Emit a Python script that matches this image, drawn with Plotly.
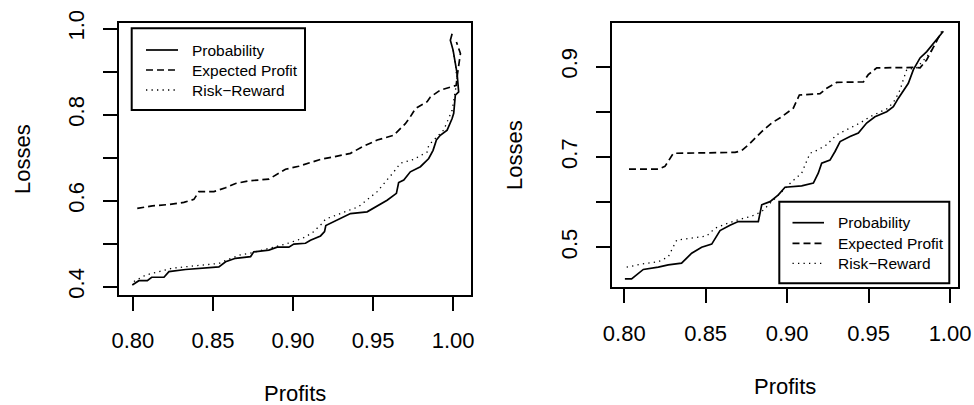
import plotly.graph_objects as go

# ---------------- data ----------------
# Left panel
L_prob_x = [0.7996, 0.8037, 0.809, 0.8117, 0.8194, 0.8225, 0.8329, 0.8454, 0.8537, 0.8579,
            0.8641, 0.8735, 0.8755, 0.8849, 0.8901, 0.8974, 0.9005, 0.9078, 0.9109, 0.9172,
            0.9197, 0.9205, 0.9255, 0.9297, 0.9359, 0.9463, 0.9536, 0.9588, 0.9646, 0.966,
            0.9692, 0.9733, 0.9796, 0.9848, 0.9875, 0.9896, 0.992, 0.9963, 0.9994, 1.0004,
            1.0014, 1.0035, 1.0025, 1.0014, 1.0, 0.9983, 0.9994]
L_prob_y = [0.404, 0.414, 0.414, 0.422, 0.422, 0.435, 0.440, 0.443, 0.446, 0.458,
            0.466, 0.470, 0.481, 0.485, 0.492, 0.492, 0.499, 0.501, 0.508, 0.518,
            0.528, 0.542, 0.551, 0.559, 0.570, 0.574, 0.590, 0.601, 0.617, 0.642,
            0.648, 0.667, 0.679, 0.698, 0.717, 0.741, 0.752, 0.764, 0.791, 0.803,
            0.845, 0.853, 0.896, 0.919, 0.950, 0.973, 0.988]

L_exp_x = [0.8027, 0.8121, 0.8225, 0.8318, 0.8381, 0.8412, 0.8506, 0.8579, 0.8641, 0.8724,
           0.8849, 0.8901, 0.8953, 0.9036, 0.912, 0.9172, 0.9255, 0.9359, 0.9432, 0.9526,
           0.9629, 0.9702, 0.9733, 0.9765, 0.9838, 0.9858, 0.992, 1.002, 1.0025, 1.0035,
           1.0046, 1.0021]
L_exp_y = [0.582, 0.588, 0.591, 0.596, 0.603, 0.621, 0.621, 0.630, 0.640, 0.646,
           0.650, 0.662, 0.673, 0.680, 0.689, 0.696, 0.702, 0.710, 0.725, 0.741,
           0.752, 0.779, 0.795, 0.814, 0.830, 0.841, 0.857, 0.868, 0.888, 0.910,
           0.942, 0.969]

L_rr_x = [0.8006, 0.8079, 0.8162, 0.8246, 0.837, 0.8537, 0.8599, 0.8672, 0.8745, 0.8849,
          0.8953, 0.9057, 0.912, 0.9182, 0.9203, 0.941, 0.9526, 0.963, 0.9671, 0.9754,
          0.9838, 0.9848, 0.9941, 0.9994, 1.0004, 1.0025, 1.0014, 1.0]
L_rr_y = [0.412, 0.427, 0.435, 0.443, 0.448, 0.454, 0.464, 0.474, 0.479, 0.489,
          0.499, 0.512, 0.525, 0.547, 0.557, 0.586, 0.621, 0.667, 0.687, 0.696,
          0.713, 0.729, 0.764, 0.810, 0.834, 0.880, 0.919, 0.950]

# Right panel
R_prob_x = [0.8004, 0.8045, 0.8117, 0.8209, 0.827, 0.8352, 0.8414, 0.8475, 0.8537, 0.8588,
            0.8649, 0.870, 0.8823, 0.8844, 0.8895, 0.8946, 0.8987, 0.9089, 0.9161, 0.9191,
            0.9212, 0.9263, 0.9294, 0.9325, 0.9386, 0.9437, 0.9488, 0.9539, 0.9611, 0.9652,
            0.9683, 0.9713, 0.9744, 0.9775, 0.9816, 0.9857, 0.9898, 0.9959]
R_prob_y = [0.430, 0.430, 0.451, 0.456, 0.461, 0.465, 0.487, 0.500, 0.507, 0.537,
            0.549, 0.557, 0.557, 0.594, 0.601, 0.616, 0.633, 0.636, 0.642, 0.664,
            0.686, 0.693, 0.712, 0.734, 0.745, 0.753, 0.775, 0.789, 0.800, 0.811,
            0.830, 0.845, 0.863, 0.893, 0.919, 0.933, 0.952, 0.978]

R_exp_x = [0.8029, 0.8209, 0.825, 0.8301, 0.868, 0.8721, 0.8772, 0.8844, 0.8905, 0.8967,
           0.9038, 0.9075, 0.9202, 0.9243, 0.9304, 0.9468, 0.9498, 0.955, 0.9775, 0.9816,
           0.9857, 0.9888, 0.9949]
R_exp_y = [0.673, 0.673, 0.679, 0.708, 0.710, 0.714, 0.730, 0.756, 0.775, 0.789,
           0.808, 0.837, 0.840, 0.852, 0.865, 0.866, 0.882, 0.897, 0.898, 0.897,
           0.915, 0.937, 0.978]

R_rr_x = [0.8015, 0.8107, 0.8209, 0.827, 0.8322, 0.8414, 0.8506, 0.8557, 0.8618, 0.870,
          0.8782, 0.8844, 0.8895, 0.8946, 0.9028, 0.9089, 0.913, 0.914, 0.9191, 0.9243,
          0.9304, 0.9366, 0.9447, 0.9509, 0.957, 0.9621, 0.9662, 0.9693, 0.9713, 0.9734,
          0.9795, 0.9877, 0.9939]
R_rr_y = [0.456, 0.463, 0.468, 0.479, 0.516, 0.520, 0.525, 0.542, 0.551, 0.561,
          0.569, 0.579, 0.597, 0.616, 0.645, 0.664, 0.697, 0.708, 0.716, 0.727,
          0.749, 0.760, 0.775, 0.789, 0.800, 0.808, 0.826, 0.848, 0.871, 0.893,
          0.897, 0.930, 0.970]

series_names = ["Probability", "Expected Profit", "Risk\u2212Reward"]

L_xticks = [0.80, 0.85, 0.90, 0.95, 1.00]
L_xticktext = ["0.80", "0.85", "0.90", "0.95", "1.00"]
L_yticks = [0.4, 0.5, 0.6, 0.7, 0.8, 0.9, 1.0]
L_yticktext = ["0.4", "", "0.6", "", "0.8", "", "1.0"]
R_xticks = [0.80, 0.85, 0.90, 0.95, 1.00]
R_xticktext = ["0.80", "0.85", "0.90", "0.95", "1.00"]
R_yticks = [0.5, 0.6, 0.7, 0.8, 0.9]
R_yticktext = ["0.5", "", "0.7", "", "0.9"]

# ---------------- figure ----------------
W, H = 974, 405
FONT = "Liberation Sans, Arial, Helvetica, sans-serif"

def px(x):
    return x / W

def py(y):
    return 1 - y / H

styles = [dict(color="black", width=1.7, dash="solid"),
          dict(color="black", width=1.7, dash="7px,4px"),
          dict(color="black", width=1.3, dash="1.3px,4.2px")]

fig = go.Figure()
left_data = [(L_prob_x, L_prob_y), (L_exp_x, L_exp_y), (L_rr_x, L_rr_y)]
right_data = [(R_prob_x, R_prob_y), (R_exp_x, R_exp_y), (R_rr_x, R_rr_y)]
for (xs, ys), st, nm in zip(left_data, styles, series_names):
    fig.add_trace(go.Scatter(x=xs, y=ys, mode="lines", line=st, name=nm,
                             xaxis="x", yaxis="y", showlegend=False, hoverinfo="skip"))
for (xs, ys), st, nm in zip(right_data, styles, series_names):
    fig.add_trace(go.Scatter(x=xs, y=ys, mode="lines", line=st, name=nm,
                             xaxis="x2", yaxis="y2", showlegend=False, hoverinfo="skip"))

tickfont = dict(family=FONT, size=22, color="black")
common = dict(showline=True, mirror=True, linecolor="black", linewidth=2,
              ticks="outside", ticklen=14, tickwidth=2, tickcolor="black",
              showgrid=False, zeroline=False, tickfont=tickfont, automargin=False)

fig.update_layout(
    width=W, height=H, autosize=False,
    margin=dict(l=0, r=0, t=0, b=0, pad=0),
    paper_bgcolor="white", plot_bgcolor="white",
    xaxis=dict(domain=[px(119), px(471)], range=[0.7913, 1.0112],
               tickvals=L_xticks, ticktext=L_xticktext, anchor="y",
               ticklabelstandoff=11, **common),
    yaxis=dict(domain=[py(295), py(23.3)], range=[0.3807, 1.0123],
               tickvals=L_yticks, ticktext=L_yticktext, anchor="x",
               tickangle=-90, ticklabelstandoff=10, **common),
    xaxis2=dict(domain=[px(611.7), px(957.7)], range=[0.7923, 1.0047],
                tickvals=R_xticks, ticktext=R_xticktext, anchor="y2",
                ticklabelstandoff=11, **common),
    yaxis2=dict(domain=[py(287.3), py(22.7)], range=[0.4115, 0.997],
                tickvals=R_yticks, ticktext=R_yticktext, anchor="x2",
                tickangle=-90, ticklabelstandoff=10, **common),
)

titlefont = dict(family=FONT, size=22, color="black")
ann = [
    dict(text="Profits", x=px(295), y=py(393), xref="paper", yref="paper",
         showarrow=False, font=titlefont, xanchor="center", yanchor="middle"),
    dict(text="Losses", x=px(22), y=py(159), xref="paper", yref="paper",
         showarrow=False, font=titlefont, textangle=-90, xanchor="center", yanchor="middle"),
    dict(text="Profits", x=px(785), y=py(386), xref="paper", yref="paper",
         showarrow=False, font=titlefont, xanchor="center", yanchor="middle"),
    dict(text="Losses", x=px(515), y=py(155), xref="paper", yref="paper",
         showarrow=False, font=titlefont, textangle=-90, xanchor="center", yanchor="middle"),
]

shapes = []
legfont = dict(family=FONT, size=15.5, color="black")

def add_legend(bx0, bx1, by0, by1, rows, lx0, lx1, tx):
    shapes.append(dict(type="rect", xref="paper", yref="paper",
                       x0=px(bx0), x1=px(bx1), y0=py(by1), y1=py(by0),
                       line=dict(color="black", width=2), fillcolor="white", layer="above"))
    for r, st, nm in zip(rows, styles, series_names):
        shapes.append(dict(type="line", xref="paper", yref="paper",
                           x0=px(lx0), x1=px(lx1), y0=py(r), y1=py(r),
                           line=dict(color=st["color"], width=st["width"], dash=st["dash"]),
                           layer="above"))
        ann.append(dict(text=nm, x=px(tx), y=py(r), xref="paper", yref="paper",
                        showarrow=False, font=legfont, xanchor="left", yanchor="middle"))

add_legend(131.7, 305, 28.3, 110, [50, 70, 90], 146, 178, 190)
add_legend(779.3, 949.3, 201.7, 283.3, [222.7, 243.3, 263.3], 792.5, 824, 836)

fig.update_layout(annotations=ann, shapes=shapes)
fig.write_html("out.html", config={"displayModeBar": False},
               post_script="document.body.style.margin='0px';")
